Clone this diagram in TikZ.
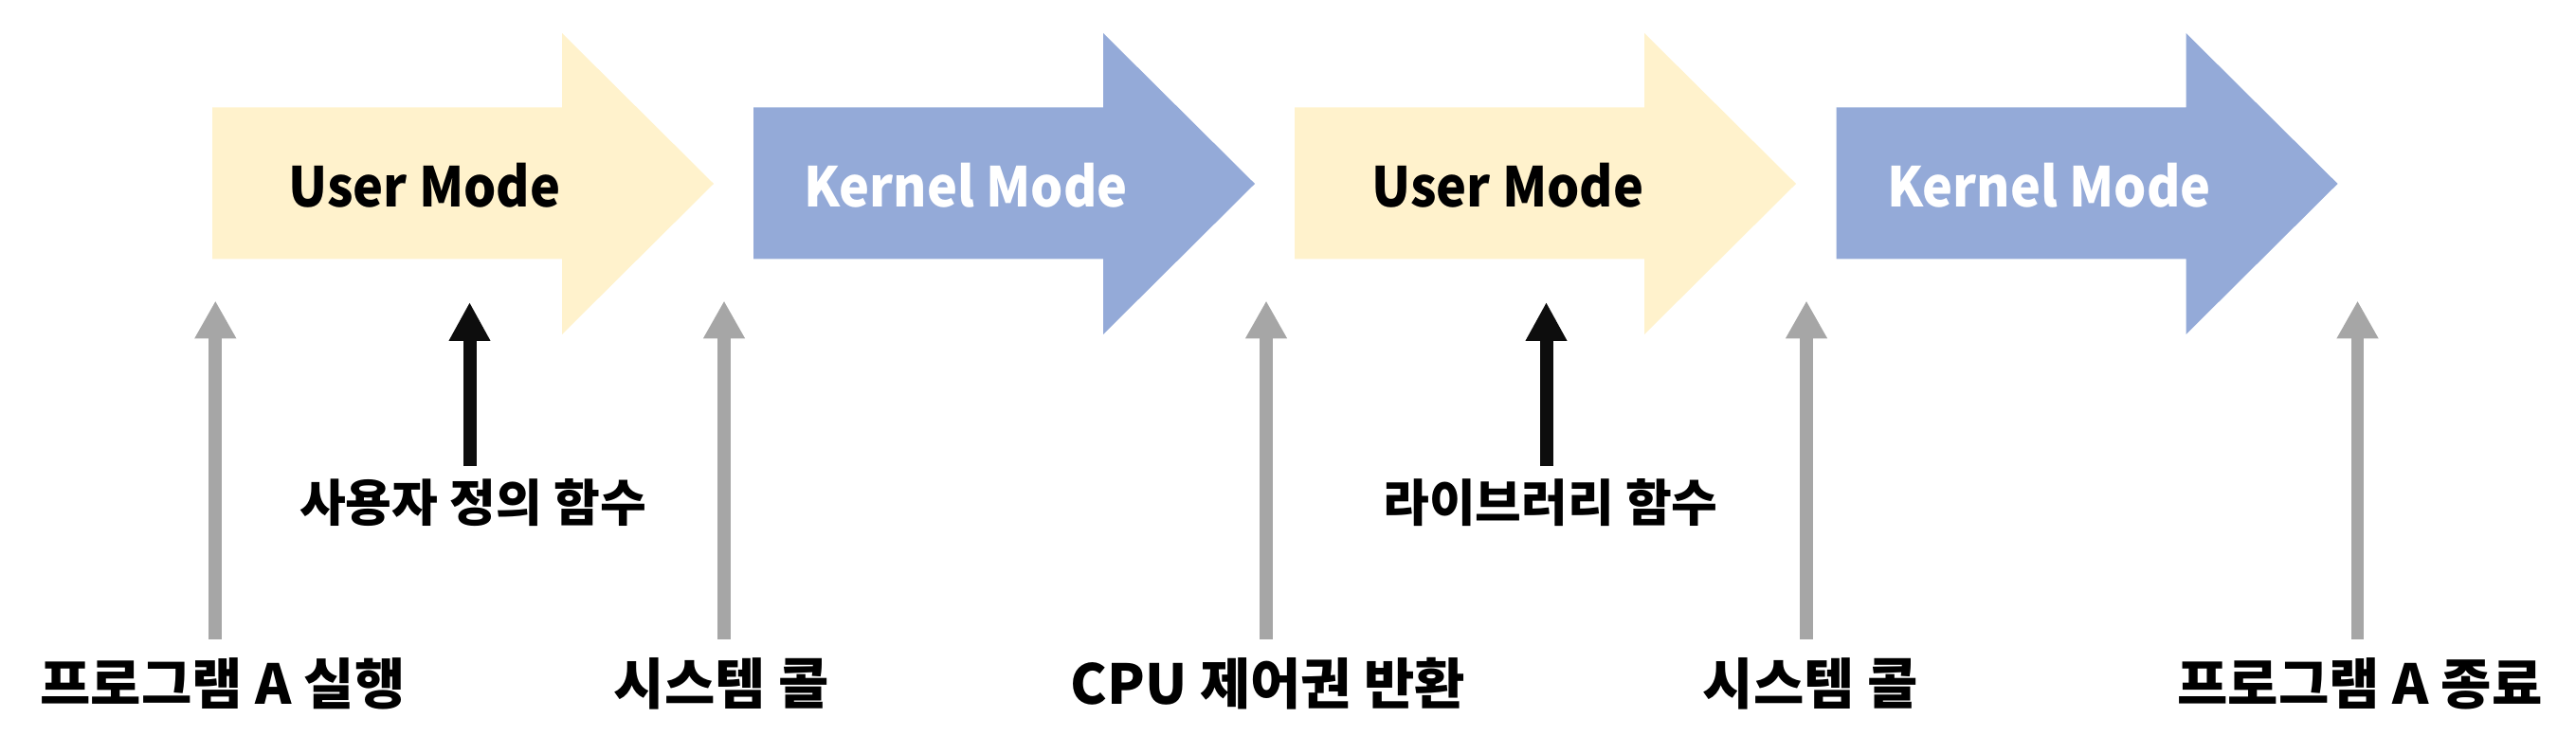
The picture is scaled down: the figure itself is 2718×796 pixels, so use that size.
\documentclass[tikz,border=0pt]{standalone}
\usepackage{fontspec}
\setmainfont{Noto Sans CJK KR}
\newfontfamily\modefont{Noto Sans CJK KR}[FakeStretch=0.93]
\usetikzlibrary{arrows.meta}
\definecolor{uyel}{HTML}{FFF2CC}
\definecolor{kblu}{HTML}{94AAD8}
\definecolor{garr}{HTML}{A6A6A6}
\definecolor{barr}{HTML}{0D0D0D}
\newcommand{\modeshape}[2]{%
  \fill[#2] (#1,113.3) -- ++(369,0) -- ++(0,-78.3) -- ++(160,159) -- ++(-160,159) -- ++(0,-79.7) -- ++(-369,0) -- cycle;}
\begin{document}
\begin{tikzpicture}[x=0.5pt,y=-0.5pt,
  modetext/.style={font=\modefont\fontsize{29}{30}\selectfont\bfseries, inner sep=0pt},
  botlabel/.style={font=\fontsize{29}{30}\selectfont\bfseries, inner sep=0pt},
  midlabel/.style={font=\fontsize{26.5}{28}\selectfont\bfseries, inner sep=0pt},
  garrow/.style={draw=garr, line width=6.85pt, -{Triangle[width=20.65pt,length=20pt]}},
  barrow/.style={draw=barr, line width=7pt, -{Triangle[width=20.5pt,length=20.5pt]}}]
\useasboundingbox (0,0) rectangle (2718,796);
% mode arrows
\modeshape{224}{uyel}
\modeshape{795}{kblu}
\modeshape{1366}{uyel}
\modeshape{1937.5}{kblu}
\node[modetext, text=black] (m1) at (448,196) {User Mode};
\node[modetext, text=white] (m2) at (1019,196) {Kernel Mode};
\node[modetext, text=black] (m3) at (1591,196) {User Mode};
\node[modetext, text=white] (m4) at (2162,196) {Kernel Mode};
% bottom labels
\node[botlabel] (b1) at (235,722) {프로그램 A 실행};
\node[botlabel] (b2) at (761,722) {시스템 콜};
\node[botlabel] (b3) at (1338,722) {CPU 제어권 반환};
\node[botlabel] (b4) at (1910,722) {시스템 콜};
\node[botlabel] (b5) at (2490,722) {프로그램 A 종료};
% middle labels
\node[midlabel] (f1) at (499,531) {사용자 정의 함수};
\node[midlabel] (f2) at (1636,531) {라이브러리 함수};
% arrow end points
\coordinate (s1) at (227.3,675); \coordinate (t1) at (227.3,317.5);
\coordinate (s2) at (764,675);   \coordinate (t2) at (764,317.5);
\coordinate (s3) at (1336,675);  \coordinate (t3) at (1336,317.5);
\coordinate (s4) at (1906,675);  \coordinate (t4) at (1906,317.5);
\coordinate (s5) at (2487.5,675);\coordinate (t5) at (2487.5,317.5);
\coordinate (u1) at (495.5,492); \coordinate (v1) at (495.5,319);
\coordinate (u2) at (1631.5,492);\coordinate (v2) at (1631.5,319);
\draw[garrow] (s1) -- (t1);
\draw[garrow] (s2) -- (t2);
\draw[garrow] (s3) -- (t3);
\draw[garrow] (s4) -- (t4);
\draw[garrow] (s5) -- (t5);
\draw[barrow] (u1) -- (v1);
\draw[barrow] (u2) -- (v2);
\end{tikzpicture}
\end{document}
